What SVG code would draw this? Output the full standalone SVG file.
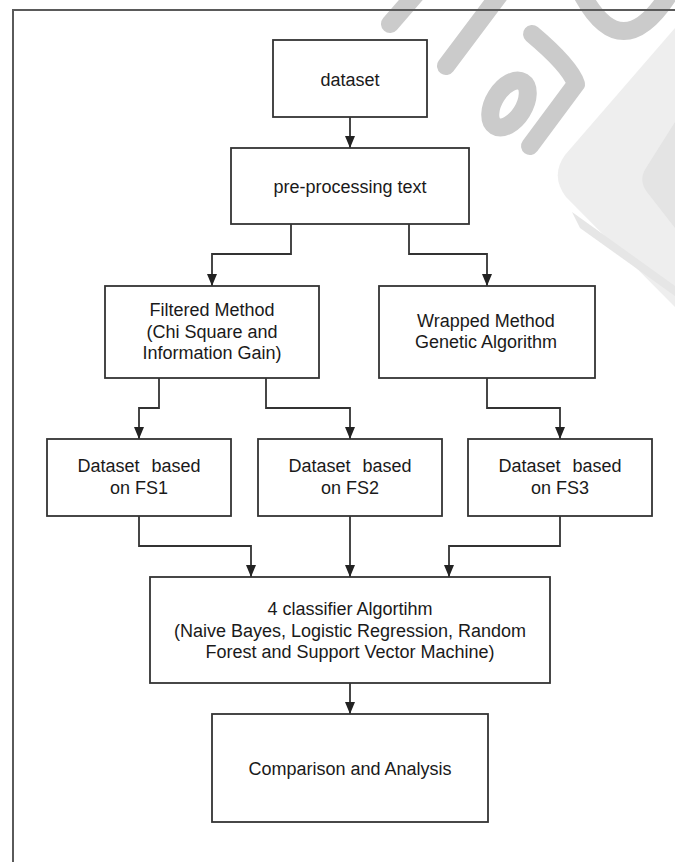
<svg xmlns="http://www.w3.org/2000/svg" width="675" height="862" viewBox="0 0 675 862">
<style>
.box{fill:#fff;stroke:#333;stroke-width:1.8}
.lbl{font-family:"Liberation Sans",Arial,sans-serif;font-size:18px;fill:#1a1a1a;text-anchor:middle}
.conn{fill:none;stroke:#333;stroke-width:1.8}
.wm{fill:none;stroke:#cbcbcb;stroke-width:18;stroke-linecap:round;stroke-linejoin:round}
</style>
<defs>
<marker id="arr" markerUnits="userSpaceOnUse" markerWidth="12" markerHeight="10" refX="12" refY="5" orient="auto">
<path d="M0,0 L12,5 L0,10 Z" fill="#222"/>
</marker>
</defs>
<rect width="675" height="862" fill="#fff"/>
<g id="watermark">
<path d="M675 28 L565 155 Q550 176 566 197 L675 307 Z" fill="#eeeeee"/>
<path d="M675 122 L646 168 Q638 180 647 192 L675 228 Z" fill="#e4e4e4"/>
<path d="M572 212 L675 286 L675 296 L580 228 Z" fill="#e6e6e6"/>
<path class="wm" d="M390 24 L416 -6"/>
<path class="wm" d="M446 66 L500 -6"/>
<path class="wm" d="M532 34 Q570 66 576 84 L530 146"/>
<ellipse class="wm" cx="509" cy="104" rx="26" ry="15" transform="rotate(-58 509 104)"/>
<path class="wm" d="M583 -4 Q622 66 668 -4"/>
</g>
<g id="frame" fill="none" stroke="#5a5a5a" stroke-width="2">
<path d="M13 862 V10 H675"/>
</g>
<g id="connectors">
<path class="conn" d="M350 117 V148" marker-end="url(#arr)"/>
<path class="conn" d="M291 224 V254 H212 V286" marker-end="url(#arr)"/>
<path class="conn" d="M409 224 V254 H487 V286" marker-end="url(#arr)"/>
<path class="conn" d="M159 378 V408 H139 V439" marker-end="url(#arr)"/>
<path class="conn" d="M266 378 V408 H350 V439" marker-end="url(#arr)"/>
<path class="conn" d="M487 378 V408 H560 V439" marker-end="url(#arr)"/>
<path class="conn" d="M139 516 V546 H251 V577" marker-end="url(#arr)"/>
<path class="conn" d="M350 516 V577" marker-end="url(#arr)"/>
<path class="conn" d="M560 516 V546 H449 V577" marker-end="url(#arr)"/>
<path class="conn" d="M350 683 V714" marker-end="url(#arr)"/>
</g>
<g id="dataset">
<rect class="box" x="273" y="40" width="154" height="77"/>
<text class="lbl" x="350" y="86">dataset</text>
</g>
<g id="preprocessing">
<rect class="box" x="231" y="148" width="238" height="76"/>
<text class="lbl" x="350" y="193">pre-processing text</text>
</g>
<g id="filtered">
<rect class="box" x="105" y="286" width="214" height="92"/>
<text class="lbl" x="212" y="316">Filtered Method</text>
<text class="lbl" x="212" y="338">(Chi Square and</text>
<text class="lbl" x="212" y="359">Information Gain)</text>
</g>
<g id="wrapped">
<rect class="box" x="379" y="286" width="216" height="92"/>
<text class="lbl" x="486" y="327">Wrapped Method</text>
<text class="lbl" x="486" y="348">Genetic Algorithm</text>
</g>
<g id="fs1">
<rect class="box" x="47" y="439" width="184" height="77"/>
<text class="lbl" x="139" y="472" word-spacing="7">Dataset based</text>
<text class="lbl" x="139" y="494">on FS1</text>
</g>
<g id="fs2">
<rect class="box" x="258" y="439" width="184" height="77"/>
<text class="lbl" x="350" y="472" word-spacing="7">Dataset based</text>
<text class="lbl" x="350" y="494">on FS2</text>
</g>
<g id="fs3">
<rect class="box" x="468" y="439" width="184" height="77"/>
<text class="lbl" x="560" y="472" word-spacing="7">Dataset based</text>
<text class="lbl" x="560" y="494">on FS3</text>
</g>
<g id="classifier">
<rect class="box" x="150" y="577" width="400" height="106"/>
<text class="lbl" x="350" y="615">4 classifier Algortihm</text>
<text class="lbl" x="350" y="637">(Naive Bayes, Logistic Regression, Random</text>
<text class="lbl" x="350" y="658">Forest and Support Vector Machine)</text>
</g>
<g id="comparison">
<rect class="box" x="212" y="714" width="276" height="108"/>
<text class="lbl" x="350" y="775">Comparison and Analysis</text>
</g>
</svg>
